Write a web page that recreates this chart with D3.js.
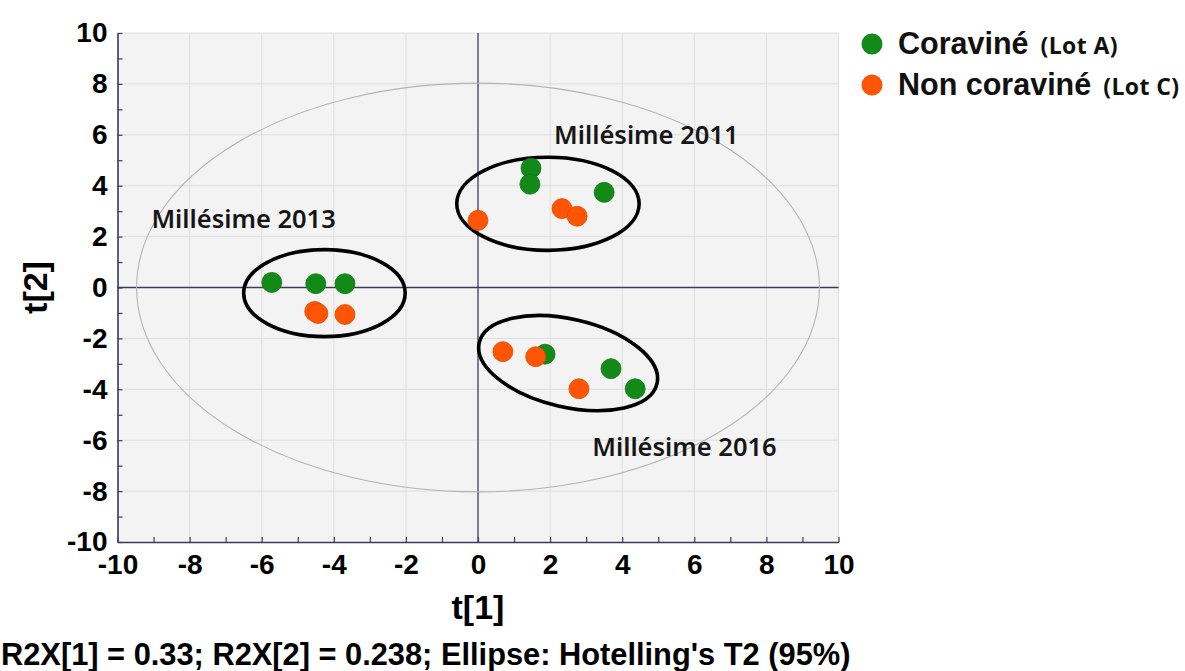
<!DOCTYPE html>
<html>
<head>
<meta charset="utf-8">
<script src="https://cdn.jsdelivr.net/npm/d3@7"></script>
<style>
  html, body { margin: 0; padding: 0; background: #ffffff; }
  svg { display: block; }
</style>
</head>
<body>
<svg id="chart" width="1185" height="671"></svg>
<script>
// Score plot t[1] / t[2]
const seriesNames = ["Coraviné", "Non coraviné"];
const seriesLots = ["(Lot A)", "(Lot C)"];

// Coraviné (Lot A) scores
const coravineT1 = [-5.72, -4.50, -3.69, 1.47, 1.44, 3.50, 1.86, 3.69, 4.36];
const coravineT2 = [0.20, 0.15, 0.15, 4.69, 4.06, 3.74, -2.62, -3.19, -3.98];

// Non coraviné (Lot C) scores
const nonCoravineT1 = [-4.53, -4.44, -3.69, 0.00, 2.33, 2.75, 0.69, 1.60, 2.80];
const nonCoravineT2 = [-0.94, -1.02, -1.06, 2.64, 3.10, 2.80, -2.52, -2.72, -3.98];

// Vintage groupings (centre, half-axes in score units, tilt in degrees)
const vintageNames = ["Millésime 2013", "Millésime 2011", "Millésime 2016"];
const vintageCx = [-4.26, 1.94, 2.50];
const vintageCy = [-0.22, 3.29, -2.97];
const vintageRx = [2.24, 2.53, 2.53];
const vintageRy = [1.71, 1.83, 1.73];
const vintageTilt = [0, 0, 13];
const vintageLabelT1 = [-9.06, 2.11, 3.17];
const vintageLabelT2 = [2.32, 5.63, -6.61];

// Hotelling's T2 (95%) ellipse half-axes
const hotellingT1 = 9.47;
const hotellingT2 = 8.03;

const tickValues = [-10, -8, -6, -4, -2, 0, 2, 4, 6, 8, 10];
const minorTicks = d3.range(-10, 11, 1);
const xTitle = "t[1]";
const yTitle = "t[2]";
const footnote = "R2X[1] = 0.33; R2X[2] = 0.238; Ellipse: Hotelling's T2 (95%)";

const colors = ["#138a17", "#fd5503"];
const strokes = ["#0f7a13", "#e64a00"];

const svg = d3.select("#chart");
const plotLeft = 117.5, plotRight = 838.5, plotTop = 33, plotBottom = 542;

const x = d3.scaleLinear().domain([-10, 10]).range([plotLeft, plotRight]);
const y = d3.scaleLinear().domain([-10, 10]).range([plotBottom, plotTop]);

const axisColor = "#3d3b5c";
const tickFont = "'Liberation Sans', Arial, sans-serif";

// plot background
svg.append("rect")
  .attr("x", plotLeft).attr("y", plotTop)
  .attr("width", plotRight - plotLeft).attr("height", plotBottom - plotTop)
  .attr("fill", "#f3f3f3");

// grid
const grid = svg.append("g").attr("stroke", "#dedede").attr("stroke-width", 1);
tickValues.filter(v => v !== 0 && v !== -10).forEach(v => {
  grid.append("line").attr("x1", x(v)).attr("x2", x(v)).attr("y1", plotTop).attr("y2", plotBottom);
});
tickValues.filter(v => v !== 0 && v !== -10).forEach(v => {
  grid.append("line").attr("x1", plotLeft).attr("x2", plotRight).attr("y1", y(v)).attr("y2", y(v));
});

// zero lines
svg.append("line").attr("x1", x(0)).attr("x2", x(0)).attr("y1", plotTop).attr("y2", plotBottom)
  .attr("stroke", axisColor).attr("stroke-width", 1.3);
svg.append("line").attr("x1", plotLeft).attr("x2", plotRight).attr("y1", y(0)).attr("y2", y(0))
  .attr("stroke", axisColor).attr("stroke-width", 1.3);

// Hotelling's T2 ellipse
svg.append("ellipse")
  .attr("cx", x(0)).attr("cy", y(0))
  .attr("rx", x(hotellingT1) - x(0))
  .attr("ry", y(0) - y(hotellingT2))
  .attr("fill", "none")
  .attr("stroke", "#b4b4b4")
  .attr("stroke-width", 1.1);

// axes
const fmt = d => (d % 2 === 0 ? String(d) : "");
const xAxis = d3.axisBottom(x).tickValues(minorTicks).tickFormat(fmt)
  .tickSizeInner(-5).tickSizeOuter(0).tickPadding(12);
const yAxis = d3.axisLeft(y).tickValues(minorTicks).tickFormat(fmt)
  .tickSizeInner(-5).tickSizeOuter(0).tickPadding(10);

const gx = svg.append("g").attr("transform", `translate(0,${plotBottom})`).call(xAxis);
const gy = svg.append("g").attr("transform", `translate(${plotLeft},0)`).call(yAxis);
[gx, gy].forEach(g => {
  g.select(".domain").attr("stroke", axisColor).attr("stroke-width", 1.6);
  g.selectAll(".tick line").attr("stroke", axisColor).attr("stroke-width", 1.2);
  g.selectAll(".tick text")
    .attr("fill", "#000")
    .style("font-family", tickFont)
    .style("font-weight", "bold")
    .style("font-size", "28px");
});

// axis titles
svg.append("text")
  .attr("x", x(0)).attr("y", 619)
  .attr("text-anchor", "middle")
  .style("font-family", tickFont).style("font-weight", "bold").style("font-size", "34px")
  .text(xTitle);
svg.append("text")
  .attr("transform", `translate(47,${y(0)}) rotate(-90)`)
  .attr("text-anchor", "middle")
  .style("font-family", tickFont).style("font-weight", "bold").style("font-size", "34px")
  .text(yTitle);

// vintage groups
const groups = vintageNames.map((name, i) => ({
  name, cx: vintageCx[i], cy: vintageCy[i], rx: vintageRx[i], ry: vintageRy[i],
  tilt: vintageTilt[i], lx: vintageLabelT1[i], ly: vintageLabelT2[i]
}));

svg.append("g").selectAll("ellipse").data(groups).join("ellipse")
  .attr("transform", d => `translate(${x(d.cx)},${y(d.cy)}) rotate(${d.tilt})`)
  .attr("rx", d => x(d.cx + d.rx) - x(d.cx))
  .attr("ry", d => y(d.cy) - y(d.cy + d.ry))
  .attr("fill", "none")
  .attr("stroke", "#000")
  .attr("stroke-width", 3.6);

svg.append("g").selectAll("text").data(groups).join("text")
  .attr("x", d => x(d.lx)).attr("y", d => y(d.ly))
  .style("font-family", "'Noto Sans', sans-serif")
  .style("font-weight", 600)
  .style("font-size", "25.5px")
  .attr("fill", "#161616")
  .text(d => d.name);

// score points
const pointSets = [
  coravineT1.map((t1, i) => ({ t1, t2: coravineT2[i], s: 0 })),
  nonCoravineT1.map((t1, i) => ({ t1, t2: nonCoravineT2[i], s: 1 }))
];
const points = [].concat(...pointSets);
svg.append("g").selectAll("circle").data(points).join("circle")
  .attr("cx", d => x(d.t1)).attr("cy", d => y(d.t2))
  .attr("r", 10)
  .attr("fill", d => colors[d.s])
  .attr("stroke", d => strokes[d.s])
  .attr("stroke-width", 0.8);

// legend
const legend = svg.append("g");
seriesNames.forEach((name, i) => {
  const cy = 44 + i * 41;
  legend.append("circle").attr("cx", 872).attr("cy", cy).attr("r", 10.5).attr("fill", colors[i]);
  const t = legend.append("text").attr("x", 898).attr("y", cy + 10)
    .style("font-family", tickFont).style("font-weight", "bold").style("font-size", "30.5px")
    .attr("fill", "#111");
  t.append("tspan").text(name);
  t.append("tspan").attr("dx", 12)
    .style("font-family", "'Open Sans', sans-serif").style("font-size", "23px")
    .style("letter-spacing", "0.4px")
    .text(seriesLots[i]);
});

// footnote
svg.append("text")
  .attr("x", 1).attr("y", 665)
  .style("font-family", tickFont).style("font-weight", "bold").style("font-size", "30.8px")
  .text(footnote);
</script>
</body>
</html>
